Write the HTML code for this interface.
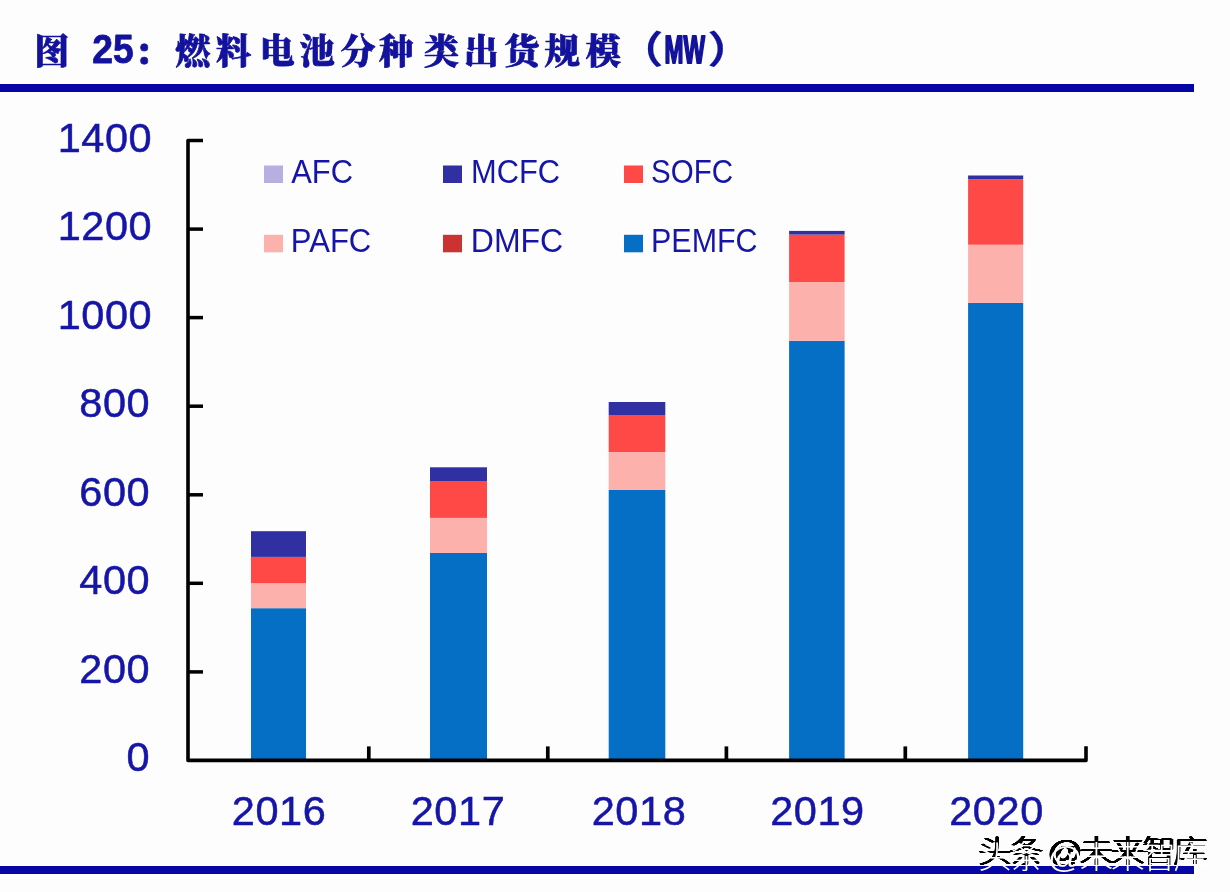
<!DOCTYPE html>
<html lang="zh-CN">
<head>
<meta charset="utf-8">
<title>图 25：燃料电池分种类出货规模（MW）</title>
<style>
html,body{margin:0;padding:0;background:#fdfdfd;}
body{width:1230px;height:892px;overflow:hidden;position:relative;}
svg{display:block;position:absolute;left:0;top:0;filter:blur(0.4px);}
.lab{font-family:"Liberation Sans","Noto Sans CJK SC",sans-serif;fill:#1515a8;}
.ttl{font-family:"Liberation Serif","Noto Serif CJK SC",serif;font-weight:900;fill:#12129c;stroke:#12129c;}
.ttn{font-family:"Liberation Sans","Noto Sans CJK SC",sans-serif;font-weight:700;fill:#12129c;stroke:#12129c;}
.wm{font-family:"Liberation Sans","Noto Sans CJK SC",sans-serif;}
</style>
</head>
<body>
<svg width="1230" height="892" viewBox="0 0 1230 892">
<rect x="0" y="0" width="1230" height="892" fill="#fdfdfd"/>
<rect x="0" y="84" width="1194" height="8" fill="#0606a4"/>
<rect x="0" y="866" width="1194" height="8" fill="#0606a4"/>
<text text-anchor="middle" stroke-linejoin="round"><tspan class="ttl" x="56.1" y="63.5" font-size="35.0" stroke-width="0.7">图 </tspan><tspan class="ttn" x="112.9" y="63.2" font-size="40.5" stroke-width="0.8" textLength="41.5" lengthAdjust="spacingAndGlyphs">25</tspan><tspan class="ttl" x="151.8" y="64.8" font-size="35.0" stroke-width="0.7">：</tspan><tspan class="ttl" x="192.7" y="63.5" font-size="35.0" stroke-width="0.7">燃</tspan><tspan class="ttl" x="233.5" y="63.5" font-size="35.0" stroke-width="0.7">料</tspan><tspan class="ttl" x="277.2" y="63.5" font-size="35.0" stroke-width="0.7">电</tspan><tspan class="ttl" x="317.3" y="63.5" font-size="35.0" stroke-width="0.7">池</tspan><tspan class="ttl" x="358.0" y="63.5" font-size="35.0" stroke-width="0.7">分</tspan><tspan class="ttl" x="396.3" y="63.5" font-size="35.0" stroke-width="0.7">种</tspan><tspan class="ttl" x="441.5" y="63.5" font-size="35.0" stroke-width="0.7">类</tspan><tspan class="ttl" x="481.3" y="63.5" font-size="35.0" stroke-width="0.7">出</tspan><tspan class="ttl" x="522.0" y="63.5" font-size="35.0" stroke-width="0.7">货</tspan><tspan class="ttl" x="562.0" y="63.5" font-size="35.0" stroke-width="0.7">规</tspan><tspan class="ttl" x="603.3" y="63.5" font-size="35.0" stroke-width="0.7">模</tspan><tspan class="ttn" x="640.6" y="63.1" font-size="38.0" stroke-width="0.2" textLength="45.6" lengthAdjust="spacingAndGlyphs">（</tspan><tspan class="ttn" x="684.7" y="62.6" font-size="39.0" stroke-width="2.2" textLength="40.5" lengthAdjust="spacingAndGlyphs">MW</tspan><tspan class="ttn" x="730.4" y="63.1" font-size="38.0" stroke-width="0.2" textLength="45.6" lengthAdjust="spacingAndGlyphs">）</tspan></text>
<rect x="251.0" y="608.2" width="55.0" height="152.2" fill="#046fc5"/>
<rect x="251.0" y="583.2" width="55.0" height="25.0" fill="#fdb1ad"/>
<rect x="251.0" y="556.9" width="55.0" height="26.3" fill="#ff4947"/>
<rect x="251.0" y="531.2" width="55.0" height="25.7" fill="#3030a2"/>
<rect x="430.0" y="553.0" width="57.0" height="207.4" fill="#046fc5"/>
<rect x="430.0" y="517.9" width="57.0" height="35.1" fill="#fdb1ad"/>
<rect x="430.0" y="481.0" width="57.0" height="36.9" fill="#ff4947"/>
<rect x="430.0" y="467.3" width="57.0" height="13.7" fill="#3030a2"/>
<rect x="608.7" y="489.7" width="56.6" height="270.7" fill="#046fc5"/>
<rect x="608.7" y="452.0" width="56.6" height="37.7" fill="#fdb1ad"/>
<rect x="608.7" y="415.0" width="56.6" height="37.0" fill="#ff4947"/>
<rect x="608.7" y="402.0" width="56.6" height="13.0" fill="#3030a2"/>
<rect x="789.1" y="340.8" width="55.5" height="419.6" fill="#046fc5"/>
<rect x="789.1" y="282.0" width="55.5" height="58.8" fill="#fdb1ad"/>
<rect x="789.1" y="234.6" width="55.5" height="47.4" fill="#ff4947"/>
<rect x="789.1" y="230.9" width="55.5" height="3.7" fill="#3030a2"/>
<rect x="968.1" y="302.9" width="55.1" height="457.5" fill="#046fc5"/>
<rect x="968.1" y="244.7" width="55.1" height="58.2" fill="#fdb1ad"/>
<rect x="968.1" y="179.3" width="55.1" height="65.4" fill="#ff4947"/>
<rect x="968.1" y="175.5" width="55.1" height="3.8" fill="#3030a2"/>
<path d="M203 140.5 H188 V760.4 H1086 V746.3" fill="none" stroke="#000" stroke-width="3.6" stroke-linejoin="round" stroke-linecap="butt"/>
<path d="M188 671.9 H203" stroke="#000" stroke-width="3.5" fill="none"/>
<path d="M188 583.3 H203" stroke="#000" stroke-width="3.5" fill="none"/>
<path d="M188 494.8 H203" stroke="#000" stroke-width="3.5" fill="none"/>
<path d="M188 406.2 H203" stroke="#000" stroke-width="3.5" fill="none"/>
<path d="M188 317.6 H203" stroke="#000" stroke-width="3.5" fill="none"/>
<path d="M188 229.1 H203" stroke="#000" stroke-width="3.5" fill="none"/>
<path d="M368.8 760.4 V746.4" stroke="#000" stroke-width="3.7" fill="none"/>
<path d="M547.8 760.4 V746.4" stroke="#000" stroke-width="3.7" fill="none"/>
<path d="M726.4 760.4 V746.4" stroke="#000" stroke-width="3.7" fill="none"/>
<path d="M905.3 760.4 V746.4" stroke="#000" stroke-width="3.7" fill="none"/>
<text class="lab" transform="translate(150.2,771.4) scale(1.02,1)" font-size="40.7" text-anchor="end" letter-spacing="0.55" stroke="#1515a8" stroke-width="0.5">0</text>
<text class="lab" transform="translate(150.2,682.9) scale(1.02,1)" font-size="40.7" text-anchor="end" letter-spacing="0.55" stroke="#1515a8" stroke-width="0.5">200</text>
<text class="lab" transform="translate(150.2,594.3) scale(1.02,1)" font-size="40.7" text-anchor="end" letter-spacing="0.55" stroke="#1515a8" stroke-width="0.5">400</text>
<text class="lab" transform="translate(150.2,505.8) scale(1.02,1)" font-size="40.7" text-anchor="end" letter-spacing="0.55" stroke="#1515a8" stroke-width="0.5">600</text>
<text class="lab" transform="translate(150.2,417.2) scale(1.02,1)" font-size="40.7" text-anchor="end" letter-spacing="0.55" stroke="#1515a8" stroke-width="0.5">800</text>
<text class="lab" transform="translate(152.2,328.6) scale(1.02,1)" font-size="40.7" text-anchor="end" letter-spacing="0.55" stroke="#1515a8" stroke-width="0.5">1000</text>
<text class="lab" transform="translate(152.2,240.1) scale(1.02,1)" font-size="40.7" text-anchor="end" letter-spacing="0.55" stroke="#1515a8" stroke-width="0.5">1200</text>
<text class="lab" transform="translate(152.2,151.5) scale(1.02,1)" font-size="40.7" text-anchor="end" letter-spacing="0.55" stroke="#1515a8" stroke-width="0.5">1400</text>
<text class="lab" transform="translate(279.1,824.5) scale(1.02,1)" font-size="40.7" text-anchor="middle" letter-spacing="0.55" stroke="#1515a8" stroke-width="0.5">2016</text>
<text class="lab" transform="translate(458.0,824.5) scale(1.02,1)" font-size="40.7" text-anchor="middle" letter-spacing="0.55" stroke="#1515a8" stroke-width="0.5">2017</text>
<text class="lab" transform="translate(639.0,824.5) scale(1.02,1)" font-size="40.7" text-anchor="middle" letter-spacing="0.55" stroke="#1515a8" stroke-width="0.5">2018</text>
<text class="lab" transform="translate(817.4,824.5) scale(1.02,1)" font-size="40.7" text-anchor="middle" letter-spacing="0.55" stroke="#1515a8" stroke-width="0.5">2019</text>
<text class="lab" transform="translate(996.5,824.5) scale(1.02,1)" font-size="40.7" text-anchor="middle" letter-spacing="0.55" stroke="#1515a8" stroke-width="0.5">2020</text>
<rect x="264.0" y="165.5" width="19" height="17.5" fill="#b5b0e0"/>
<text class="lab" x="291.2" y="183.2" font-size="32.6" textLength="61.8" lengthAdjust="spacingAndGlyphs">AFC</text>
<rect x="443.0" y="165.5" width="19" height="17.5" fill="#3030a2"/>
<text class="lab" x="471.0" y="183.2" font-size="32.6" textLength="89.0" lengthAdjust="spacingAndGlyphs">MCFC</text>
<rect x="624.0" y="165.5" width="19" height="17.5" fill="#ff4947"/>
<text class="lab" x="651.0" y="183.2" font-size="32.6" textLength="82.0" lengthAdjust="spacingAndGlyphs">SOFC</text>
<rect x="264.0" y="234.8" width="19" height="17.5" fill="#fdb1ad"/>
<text class="lab" x="290.8" y="252.2" font-size="32.6" textLength="80.5" lengthAdjust="spacingAndGlyphs">PAFC</text>
<rect x="443.0" y="234.8" width="19" height="17.5" fill="#cb3333"/>
<text class="lab" x="470.8" y="252.2" font-size="32.6" textLength="92.4" lengthAdjust="spacingAndGlyphs">DMFC</text>
<rect x="624.0" y="234.8" width="19" height="17.5" fill="#046fc5"/>
<text class="lab" x="651.0" y="252.2" font-size="32.6" textLength="106.6" lengthAdjust="spacingAndGlyphs">PEMFC</text>
<filter id="wmf" x="-5%" y="-50%" width="110%" height="200%" color-interpolation-filters="sRGB"><feGaussianBlur in="SourceAlpha" stdDeviation="0.8" result="b"/><feComponentTransfer in="b" result="d"><feFuncA type="linear" slope="6" intercept="-0.75"/></feComponentTransfer><feOffset in="d" dx="0" dy="-6.3" result="o"/><feFlood flood-color="#000" result="f"/><feComposite in="f" in2="o" operator="in" result="s"/><feMerge><feMergeNode in="s"/><feMergeNode in="SourceGraphic"/></feMerge></filter>
<text class="wm" transform="translate(978.1,867.9) scale(1,0.89)" font-size="34" font-weight="300" textLength="229.5" lengthAdjust="spacing" fill="#fff" filter="url(#wmf)">头条 @未来智库</text>
</svg>
</body>
</html>
